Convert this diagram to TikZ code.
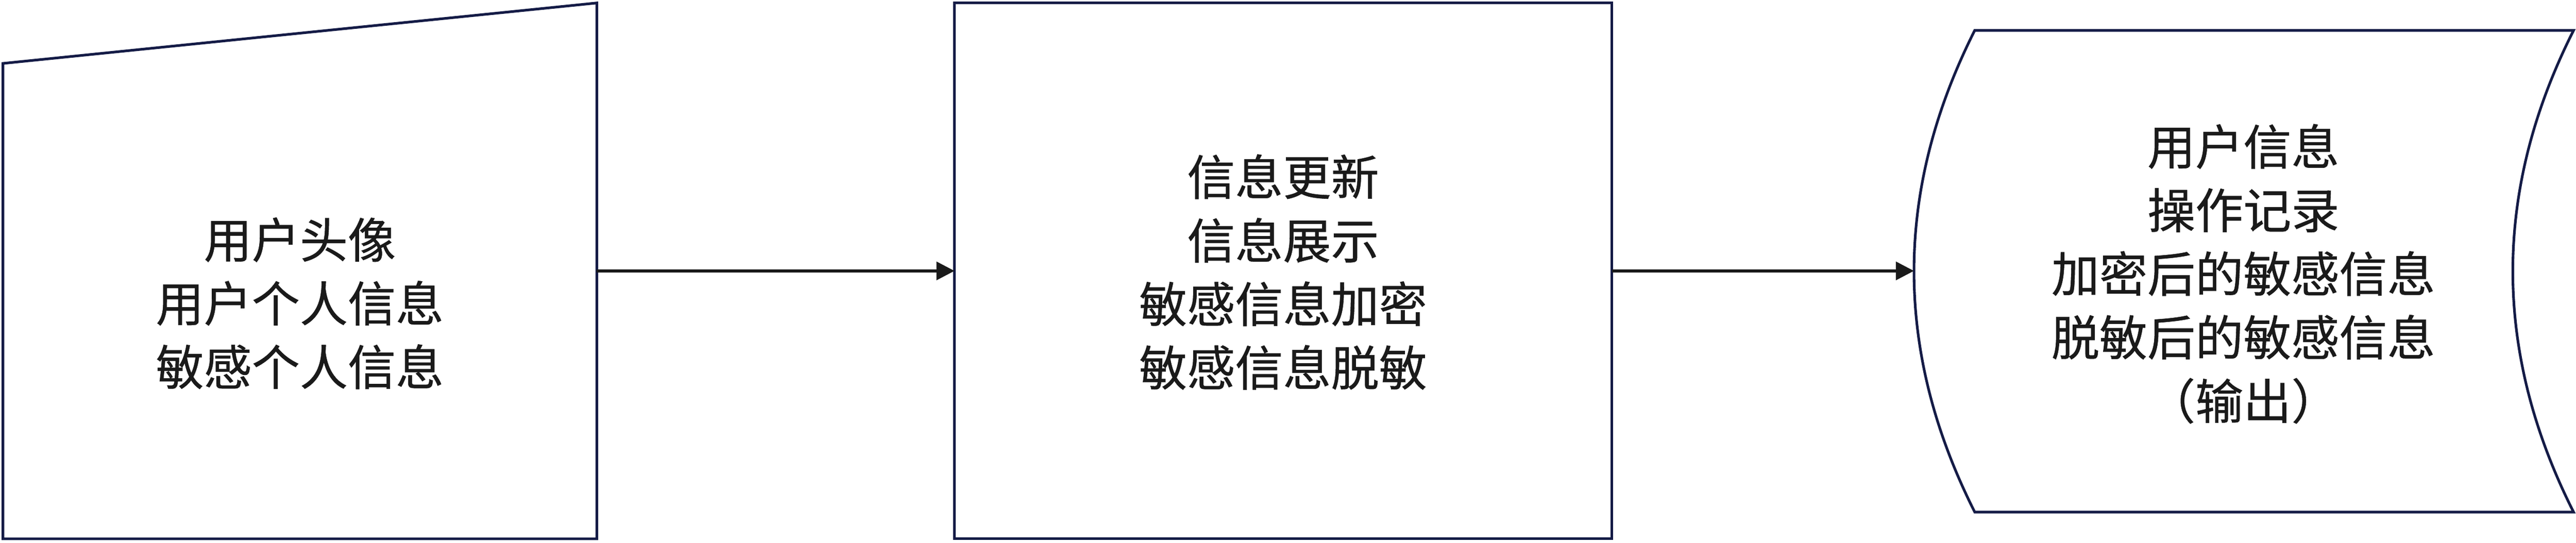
\documentclass[tikz,border=0pt]{standalone}
\usepackage{fontspec}
\newfontfamily\cjk[FakeBold=0.6]{Noto Sans CJK SC}
\usepackage{tkz-euclide}
\usetikzlibrary{arrows.meta}
\definecolor{navy}{RGB}{20,27,70}
\definecolor{inkgray}{RGB}{26,26,26}

\begin{document}
\begin{tikzpicture}[x=1pt,y=1pt,
		box/.style={draw=navy,line width=1.6pt},
		flow/.style={draw=inkgray,line width=1.7pt,-{Triangle[length=11pt,width=11pt]}},
		boxtext/.style={text=inkgray,align=center,font=\cjk\fontsize{29.2}{38.7}\selectfont}]
			\useasboundingbox (0,0) rectangle (1568,330.25);
			\tkzDefPoints{1.8/291.65/A,363.3/328.45/B,363.3/2.25/C,1.8/2.25/D}
			\tkzDefPoints{581/328.45/P,981.1/328.45/Q,981.1/2.25/R,581/2.25/S}
			\tkzDefPoints{1202/311.75/I,1566.5/311.75/J,1566.5/18.55/K,1202/18.55/L}
			\tkzDefPoints{1517.2/214/J1,1517.2/116.3/K1,1152.7/116.3/L1,1152.7/214/I1}
			\tkzDefPoints{363.3/165.35/E,581/165.35/F,981.1/165.35/G,1165/165.35/H}
			\draw[box] (A) -- (B) -- (C) -- (D) -- cycle;
			\draw[box] (P) -- (Q) -- (R) -- (S) -- cycle;
			\draw[box] (I) -- (J) .. controls (J1) and (K1) .. (K) -- (L) .. controls (L1) and (I1) .. cycle;
			\draw[flow] (E) -- (F);
			\draw[flow] (G) -- (H);
			\node[boxtext] (input) at (182.5,145.65) {用户头像\\用户个人信息\\敏感个人信息};
			\node[boxtext] (process) at (781,164.65) {信息更新\\信息展示\\敏感信息加密\\敏感信息脱敏};
			\node[boxtext] (output) at (1365.5,163.55) {用户信息\\操作记录\\加密后的敏感信息\\脱敏后的敏感信息\\（输出）};
		\end{tikzpicture}
\end{document}
